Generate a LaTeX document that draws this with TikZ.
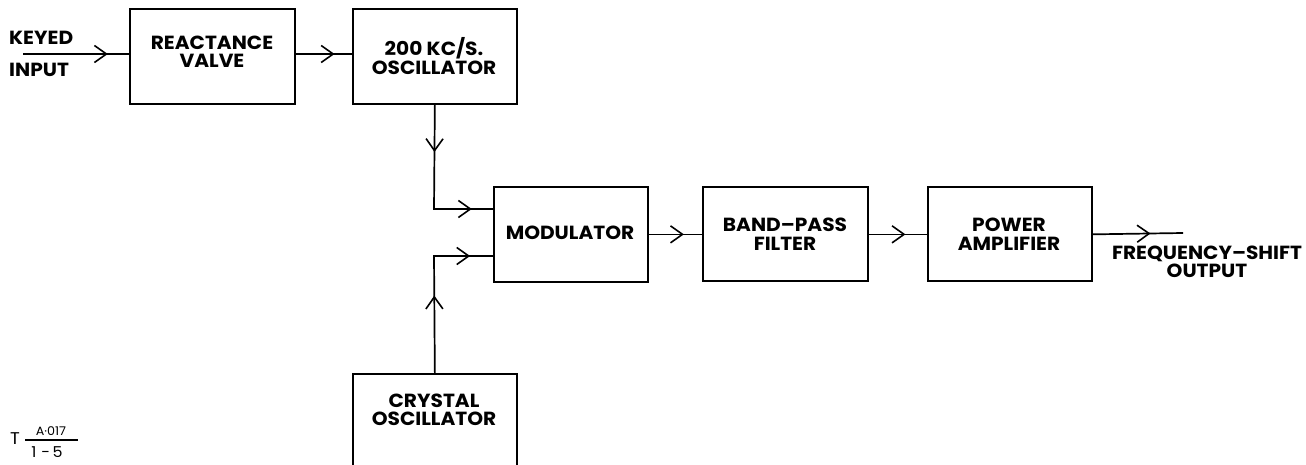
\documentclass[tikz,border=0pt]{standalone}
\usepackage{fontspec}
\setmainfont{Poppins}[FakeStretch=1.06]
\usetikzlibrary{arrows.meta,decorations.markings}
\tikzset{
  blk/.style={draw, line width=1.7pt, rectangle, inner sep=0pt, align=center},
  txt/.style={font=\fontsize{19}{18.5}\selectfont\bfseries, align=center, inner sep=0pt},
  wire/.style={line width=1.7pt},
  arrowat/.style={postaction={decorate}, decoration={markings,
     mark=at position #1 with {\arrow{Straight Barb[length=12pt,width=17pt,line width=1.6pt]}}}},
  twoarrows/.style 2 args={postaction={decorate}, decoration={markings,
     mark=at position #1 with {\arrow{Straight Barb[length=12pt,width=17pt,line width=1.6pt]}},
     mark=at position #2 with {\arrow{Straight Barb[length=12pt,width=17pt,line width=1.6pt]}}}}
}
\begin{document}
\begin{tikzpicture}[x=1pt,y=-1pt]
\useasboundingbox (0,0) rectangle (1306,465);
% boxes
\node[blk, minimum width=165, minimum height=95, anchor=north west] (react) at (129,8) {};
\node[txt] (reacttxt) at (212,52) {REACTANCE\\VALVE};
\node[blk, minimum width=164, minimum height=95, anchor=north west] (osc) at (352,8) {};
\node[txt] (osctxt) at (434,56) {200 KC/S.\\OSCILLATOR};
\node[blk, minimum width=154, minimum height=95, anchor=north west] (mod) at (493,186) {};
\node[txt] (modtxt) at (570,233) {MODULATOR};
\node[blk, minimum width=165, minimum height=94, anchor=north west] (bpf) at (702,186) {};
\node[txt] (bpftxt) at (785,234) {BAND--PASS\\FILTER};
\node[blk, minimum width=164, minimum height=94, anchor=north west] (pa) at (927,186) {};
\node[txt] (patxt) at (1009,234) {POWER\\AMPLIFIER};
\node[blk, minimum width=164, minimum height=110, anchor=north west] (xtal) at (352,373) {};
\node[txt] (xtaltxt) at (434,410) {CRYSTAL\\OSCILLATOR};
% input/output labels
\node[txt, anchor=west] (keyed) at (9,38) {KEYED};
\node[txt, anchor=west] (input) at (9,70) {INPUT};
\node[txt] (fso) at (1207,262) {FREQUENCY--SHIFT\\OUTPUT};
\coordinate (in) at (23,54);
\coordinate (out) at (1183,233);
% connectors
\draw[wire, arrowat=0.80] (in) -- (react.west |- in);
\draw[wire, arrowat=0.69] (react.east |- in) -- (osc.west |- in);
\draw[wire, twoarrows={0.29}{0.87}] (osc.south) -- (434,209) -- (mod.west |- 0,209);
\draw[wire, twoarrows={0.44}{0.87}] (xtal.north) -- (434,256) -- (mod.west |- 0,256);
\draw[wire, arrowat=0.66] (mod.east) -- (bpf.west |- mod.east);
\draw[wire, arrowat=0.63] (bpf.east |- mod.east) -- (pa.west |- mod.east);
\draw[wire, arrowat=0.64] (pa.east |- mod.east) -- (out);
% drawing number
\node[font=\fontsize{17}{17}\selectfont, inner sep=0pt] (tlabel) at (15,439) {T};
\node[font=\fontsize{12}{12}\selectfont, inner sep=0pt] (tnum) at (51,431) {A·017};
\node[font=\fontsize{15}{15}\selectfont, inner sep=0pt] (tden) at (47,452) {1\,\,-\,5};
\coordinate (fl) at (25,440);
\coordinate (fr) at (78,440);
\draw[line width=1.2pt] (fl) -- (fr);
\end{tikzpicture}
\end{document}
